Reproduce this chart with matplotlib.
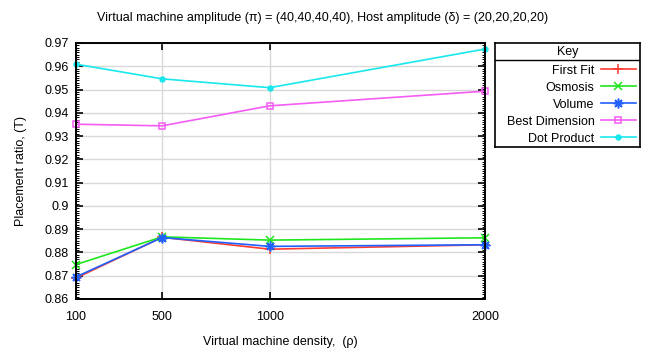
import matplotlib
matplotlib.use("Agg")
import matplotlib.pyplot as plt
from matplotlib.ticker import MultipleLocator

# --- Data ---
densities = [100, 500, 1000, 2000]
first_fit = [0.8690, 0.8865, 0.8814, 0.8833]
osmosis = [0.8748, 0.8867, 0.8853, 0.8863]
volume = [0.8695, 0.8864, 0.8826, 0.8833]
best_dimension = [0.9351, 0.9344, 0.9430, 0.9493]
dot_product = [0.9609, 0.9546, 0.9508, 0.9674]

series_names = ["First Fit", "Osmosis", "Volume", "Best Dimension", "Dot Product"]
series_values = [first_fit, osmosis, volume, best_dimension, dot_product]

# --- Styles ---
colors = ["#ff3b30", "#1ee61e", "#2060ff", "#f45cf4", "#18e8ee"]
markers = ["+", "x", (8, 2, 0), "s", "o"]
msizes = [7, 6, 7, 5, 3.5]
mfaces = [None, None, None, "none", None]

plt.rcParams["font.family"] = ["Liberation Sans", "DejaVu Sans"]
plt.rcParams["font.size"] = 9

fig = plt.figure(figsize=(6.46, 3.49), dpi=100)
ax = fig.add_axes([0.1176, 0.1433, 0.6331, 0.7335])

lines = []
for name, vals, c, m, ms, mf in zip(series_names, series_values, colors, markers, msizes, mfaces):
    kw = {}
    if mf is not None:
        kw["markerfacecolor"] = mf
    ln, = ax.plot(densities, vals, color=c, marker=m, markersize=ms,
                  markeredgewidth=1.1, linewidth=1.2, label=name, clip_on=False, **kw)
    lines.append(ln)

ax.set_xlim(100, 2000)
ax.set_ylim(0.86, 0.97)
ax.set_xticks(densities)
ax.set_xticklabels([str(d) for d in densities])
ax.yaxis.set_major_locator(MultipleLocator(0.01))
ax.yaxis.set_minor_locator(MultipleLocator(0.001))
ax.set_yticklabels([f"{v:g}" for v in ax.get_yticks()])
ax.set_ylim(0.86, 0.97)

ax.grid(True, which="major", color="#d8d8d8", linewidth=1.0)
ax.set_axisbelow(True)
ax.tick_params(which="major", direction="in", length=5, width=1.2,
               top=True, right=True, pad=5)
ax.tick_params(axis="x", which="major", pad=9)
ax.tick_params(which="minor", direction="in", length=2.5, width=0.7,
               left=True, right=True)
for sp in ax.spines.values():
    sp.set_linewidth(1.4)

ax.set_title("Virtual machine amplitude (π) = (40,40,40,40), Host amplitude (δ) = (20,20,20,20)",
             x=0.5 + (323 - 280.5) / 409, pad=16, fontsize=9)
ax.set_xlabel("Virtual machine density,  (ρ)", labelpad=9)
ax.set_ylabel("Placement ratio, (T)", labelpad=13)

# --- Key box ---
kax = fig.add_axes([0.766, 0.5774, 0.2252, 0.2994])
kax.set_xticks([])
kax.set_yticks([])
for sp in kax.spines.values():
    sp.set_linewidth(1.2)
kax.set_xlim(0, 1)
kax.set_ylim(0, 1)
kax.axhline(0.835, color="black", linewidth=1.0)
kax.text(0.5, 0.918, "Key", ha="center", va="center", fontsize=9)
kax.legend(handles=lines, loc="upper right", bbox_to_anchor=(0.985, 0.815),
           frameon=False, markerfirst=False, handlelength=2.8,
           handletextpad=0.5, labelspacing=0.40, borderaxespad=0.0,
           borderpad=0.2, fontsize=9)

fig.savefig("out.png", dpi=100)
